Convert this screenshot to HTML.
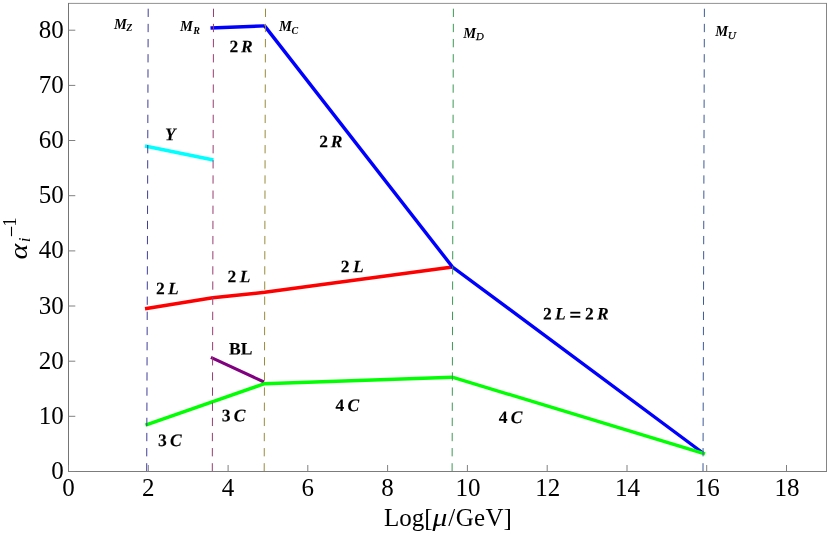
<!DOCTYPE html>
<html>
<head>
<meta charset="utf-8">
<title>Gauge coupling running</title>
<style>
  html, body { margin: 0; padding: 0; background: #ffffff; }
  body { width: 830px; height: 537px; overflow: hidden; }
  svg { display: block; }
  text { font-family: "Liberation Serif", serif; fill: #000; filter: grayscale(1); }
  .tk { font-size: 25px; }
  .lb { font-size: 17.5px; font-weight: bold; stroke: #000; stroke-width: 0.12px; }
  .it { font-style: italic; }
  .ml { font-size: 14.5px; font-weight: bold; font-style: italic; }
  .ms { font-size: 10px; font-weight: bold; font-style: italic; }
  .ms2 { font-size: 10.8px; font-weight: normal; font-style: italic; stroke: #000; stroke-width: 0.25px; }
</style>
</head>
<body>
<svg width="830" height="537" viewBox="0 0 830 537">
  <rect x="0" y="0" width="830" height="537" fill="#ffffff"/>

  <!-- curves -->
  <g fill="none" stroke-width="3.4" stroke-linejoin="miter" stroke-linecap="butt">
    <!-- cyan Y -->
    <polyline points="145,146 213.5,160" stroke="#00ffff"/>
    <!-- red 2L -->
    <polyline points="145,308.8 212.7,297.8 264.7,292.3 452.5,267" stroke="#ff0000"/>
    <!-- blue 2R -->
    <polyline points="210.5,28 264.7,25.9" stroke="#0000ff"/>
    <polyline points="264.6,25.9 452.5,267 703,453" stroke="#0000ff"/>
    <!-- purple BL -->
    <polyline points="210.9,357.3 264,382" stroke="#800080" stroke-width="3.1"/>
    <!-- green 3C / 4C -->
    <polyline points="145.5,425.2 264.5,383.7 452.3,377.2 705,453.8" stroke="#00ff00"/>
  </g>

  <!-- dashed vertical scale markers -->
  <g fill="none" stroke-width="1.0" stroke-dasharray="8.3 6.85">
    <line x1="148.2" y1="8.7" x2="146.7" y2="471.5" stroke="#3f3d99"/>
    <line x1="213.5" y1="8.7" x2="212.3" y2="471.5" stroke="#993d71"/>
    <line x1="265.5" y1="8.7" x2="264.2" y2="471.5" stroke="#998b3d"/>
    <line x1="453.4" y1="8.7" x2="452.1" y2="471.5" stroke="#3d9956"/>
    <line x1="704.4" y1="8.7" x2="703" y2="471.5" stroke="#3d5a99"/>
  </g>

  <!-- frame -->
  <g fill="none" stroke-width="1">
    <line x1="68" y1="3.4" x2="827" y2="3.4" stroke="#929292"/>
    <line x1="826.5" y1="3" x2="826.5" y2="472" stroke="#858585"/>
    <line x1="68.5" y1="3" x2="68.5" y2="472" stroke="#757575"/>
    <line x1="68" y1="471.5" x2="827" y2="471.5" stroke="#7c7c7c"/>
  </g>

  <!-- ticks -->
  <g fill="none" stroke="#808080" stroke-width="1">
    <!-- x ticks -->
    <line x1="68.5" y1="465" x2="68.5" y2="471.5"/>
    <line x1="148.3" y1="465" x2="148.3" y2="471.5"/>
    <line x1="228.1" y1="465" x2="228.1" y2="471.5"/>
    <line x1="307.8" y1="465" x2="307.8" y2="471.5"/>
    <line x1="387.6" y1="465" x2="387.6" y2="471.5"/>
    <line x1="467.4" y1="465" x2="467.4" y2="471.5"/>
    <line x1="547.2" y1="465" x2="547.2" y2="471.5"/>
    <line x1="627.0" y1="465" x2="627.0" y2="471.5"/>
    <line x1="706.7" y1="465" x2="706.7" y2="471.5"/>
    <line x1="786.5" y1="465" x2="786.5" y2="471.5"/>
    <!-- y ticks -->
    <line x1="68.5" y1="471.5" x2="75.3" y2="471.5"/>
    <line x1="68.5" y1="416.3" x2="75.3" y2="416.3"/>
    <line x1="68.5" y1="361.2" x2="75.3" y2="361.2"/>
    <line x1="68.5" y1="306.0" x2="75.3" y2="306.0"/>
    <line x1="68.5" y1="250.9" x2="75.3" y2="250.9"/>
    <line x1="68.5" y1="195.7" x2="75.3" y2="195.7"/>
    <line x1="68.5" y1="140.5" x2="75.3" y2="140.5"/>
    <line x1="68.5" y1="85.4" x2="75.3" y2="85.4"/>
    <line x1="68.5" y1="30.2" x2="75.3" y2="30.2"/>
  </g>

  <!-- x tick labels -->
  <g class="tk" text-anchor="middle">
    <text x="68.5" y="496.2">0</text>
    <text x="148.3" y="496.2">2</text>
    <text x="228.1" y="496.2">4</text>
    <text x="307.8" y="496.2">6</text>
    <text x="387.6" y="496.2">8</text>
    <text x="467.9" y="496.2">10</text>
    <text x="547.7" y="496.2">12</text>
    <text x="627.5" y="496.2">14</text>
    <text x="707.2" y="496.2">16</text>
    <text x="787.0" y="496.2">18</text>
  </g>

  <!-- y tick labels -->
  <g class="tk" text-anchor="end">
    <text x="63.8" y="479.0">0</text>
    <text x="63.8" y="423.8">10</text>
    <text x="63.8" y="368.7">20</text>
    <text x="63.8" y="313.5">30</text>
    <text x="63.8" y="258.4">40</text>
    <text x="63.8" y="203.2">50</text>
    <text x="63.8" y="148.0">60</text>
    <text x="63.8" y="92.9">70</text>
    <text x="63.8" y="37.7">80</text>
  </g>

  <!-- x axis label -->
  <text class="tk" x="384" y="525.9">Log[</text>
  <text class="tk it" transform="translate(432.4,525.9) scale(1.18,1)">μ</text>
  <text class="tk" y="525.9"><tspan x="448.2">/</tspan><tspan x="455.8">G</tspan><tspan x="474.1">e</tspan><tspan x="485.4">V</tspan><tspan x="503.5">]</tspan></text>

  <!-- y axis label -->
  <g transform="translate(26.7,259.4) rotate(-90)">
    <text class="tk it" transform="scale(1.2,1.04)" x="0" y="0">α</text>
    <text class="it" font-size="17.7" x="17.2" y="3.3">i</text>
    <line x1="23.2" y1="-15.2" x2="32.7" y2="-15.2" stroke="#000" stroke-width="1.1"/>
    <text font-size="18" x="33" y="-10.4">1</text>
  </g>

  <!-- curve labels -->
  <g class="lb">
    <text transform="translate(229.5,52.3) rotate(0.05)"><tspan x="0.0">2</tspan><tspan class="it" x="11.5">R</tspan></text>
    <text transform="translate(319.3,147.3) rotate(0.05)"><tspan x="0.0">2</tspan><tspan class="it" x="11.5">R</tspan></text>
    <text transform="translate(156,294.3) rotate(0.05)"><tspan x="0.0">2</tspan><tspan class="it" x="12.1">L</tspan></text>
    <text transform="translate(227.5,282.3) rotate(0.05)"><tspan x="0.0">2</tspan><tspan class="it" x="12.2">L</tspan></text>
    <text transform="translate(340.7,272.3) rotate(0.05)"><tspan x="0.0">2</tspan><tspan class="it" x="12.2">L</tspan></text>
    <text transform="translate(543,319.4) rotate(0.05)"><tspan x="0.0">2</tspan><tspan class="it" x="12.0">L</tspan><tspan x="42.0">2</tspan><tspan class="it" x="54.0">R</tspan></text>
    <text transform="translate(158.1,446.1) rotate(0.05)"><tspan x="0.0">3</tspan><tspan class="it" x="12.0">C</tspan></text>
    <text transform="translate(221.8,421.2) rotate(0.05)"><tspan x="0.0">3</tspan><tspan class="it" x="12.0">C</tspan></text>
    <text transform="translate(335.5,411.0) rotate(0.05)"><tspan x="0.0">4</tspan><tspan class="it" x="12.0">C</tspan></text>
    <text transform="translate(498.8,423.0) rotate(0.05)"><tspan x="0.0">4</tspan><tspan class="it" x="12.0">C</tspan></text>
    <rect x="570.3" y="311.8" width="10" height="1.8" fill="#000" stroke="none"/>
    <rect x="570.3" y="315.9" width="10" height="1.8" fill="#000" stroke="none"/>
    <text transform="translate(165.1,140.3) rotate(0.05) scale(1,1.03)"><tspan class="it" x="0.0">Y</tspan></text>
    <text transform="translate(229.1,354.6) rotate(0.05)"><tspan x="0.0">BL</tspan></text>
  </g>

  <!-- mass scale labels -->
  <g>
    <text class="ml" x="114" y="28.7">M</text><text class="ms" x="126.3" y="31.2">Z</text>
    <text class="ml" x="180" y="31">M</text><text class="ms" x="193.3" y="33.5">R</text>
    <text class="ml" x="279" y="31">M</text><text class="ms" x="291.4" y="33.5">C</text>
    <text class="ml" x="463.3" y="37.8">M</text><text class="ms2" x="476" y="40.4">D</text>
    <text class="ml" x="715.2" y="36">M</text><text class="ms2" x="727.8" y="38.5" style="font-size:11.3px">U</text>
  </g>
</svg>
</body>
</html>
